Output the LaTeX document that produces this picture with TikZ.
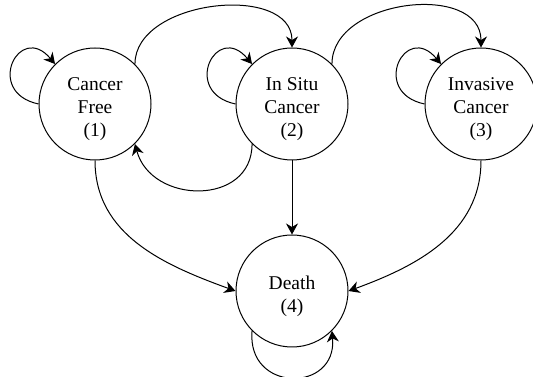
\documentclass[tikz,border=0pt]{standalone}
\usepackage{fontspec}
\setmainfont{Liberation Serif}
\usetikzlibrary{arrows.meta,positioning}

% strut that lowers the text in the states a little
\newcommand{\toprow}{\rule{0pt}{24pt}}

\begin{document}
\begin{tikzpicture}[
	x=1pt, y=1pt,
	state/.style = {draw, circle, line width=1pt, minimum size=112pt, inner sep=0pt, align=center,
		font=\fontsize{19.5}{23}\selectfont},
	link/.style  = {->, line width=1pt},
	>={Stealth[length=11pt, width=12pt, inset=3.5pt]}]
	
	\useasboundingbox (0,0) rectangle (533,377);
	
	% States of the top row
	\node[state] (c1) at (95,273) {\toprow Cancer\\Free\\(1)};
	\node[state, right=84pt of c1] (c2) {\toprow In Situ\\Cancer\\(2)};
	\node[state, right=76pt of c2] (c3) {\toprow Invasive\\Cancer\\(3)};
	% Absorbing state, below the second one
	\node[state, below=74pt of c2] (c4) {\toprow Death\\(4)};
	
	% Self loops of the top row
	\foreach \value in {1,2,3}
	\draw[link] (c\value.west) to[out=168, in=130, looseness=3.3] (c\value.135);
	
	\draw[link] (c4.225) to[out=-95, in=-85, looseness=2] (c4.315);
	
	% Transitions between the states
	\draw[link] (c1.45) to[out=90, in=90, looseness=1.05] (c2.north);
	\draw[link] (c2.45) to[out=90, in=90, looseness=1.12] (c3.north);
	\draw[link] (c2.225) to[out=-90, in=-75, looseness=1.37] (c1.315);
	
	\draw[link] (c1.south) to[out=-90, in=160] (c4.west);
	\draw[link] (c2.south) -- (c4.north);
	\draw[link] (c3.south) to[out=-90, in=20] (c4.east);
	
\end{tikzpicture}
\end{document}
